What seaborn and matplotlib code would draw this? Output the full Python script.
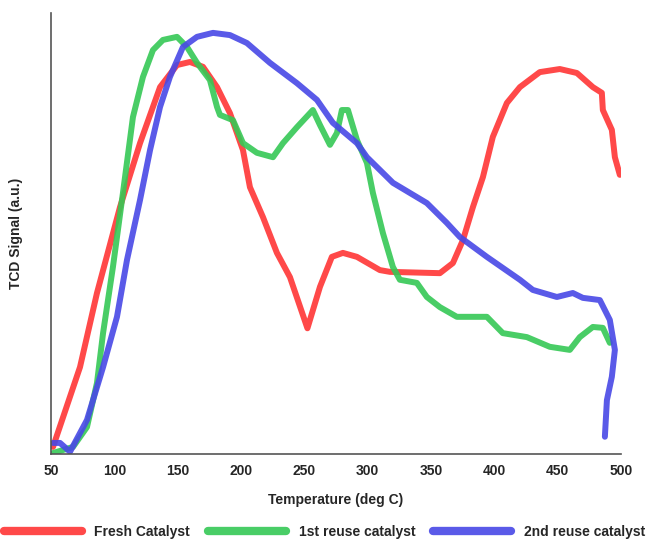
import numpy as np
import pandas as pd
import seaborn as sns
import matplotlib.pyplot as plt

# Fresh catalyst
fresh_temp = [51.6, 72.9, 86.3, 104.5, 120.3, 136.1, 149.5, 159.7, 170.0, 181.1, 191.3, 201.6,
              207.1, 217.4, 228.4, 238.7, 252.5, 262.4, 271.8, 280.5, 291.6, 309.7, 317.6, 357.1,
              367.4, 375.3, 383.2, 391.1, 398.9, 410.0, 420.3, 436.0, 451.8, 465.3, 477.9, 485.0,
              485.8, 492.9, 495.3, 499.2]
fresh_sig = [1.6, 19.7, 36.5, 56.0, 70.5, 83.2, 88.2, 88.9, 87.8, 83.2, 77.3, 68.9,
             60.5, 53.7, 45.6, 40.1, 28.5, 37.9, 44.7, 45.6, 44.7, 41.7, 41.3, 41.0,
             43.3, 48.5, 56.0, 62.8, 71.9, 79.6, 83.2, 86.6, 87.3, 86.4, 83.2, 81.9,
             78.0, 73.5, 67.3, 63.3]

# 1st reuse
reuse1_temp = [51.6, 67.4, 78.4, 86.3, 91.1, 98.9, 106.8, 114.7, 122.6, 130.5, 138.4, 149.5,
               157.4, 165.3, 175.5, 181.1, 183.4, 193.7, 201.6, 212.6, 225.3, 233.2, 244.2, 256.8,
               262.4, 270.3, 275.8, 279.7, 284.5, 291.6, 299.5, 304.2, 312.1, 320.0, 325.5, 338.9,
               346.8, 357.1, 370.5, 394.2, 406.8, 425.8, 443.9, 459.7, 467.6, 477.9, 485.8, 491.3]
reuse1_sig = [0.2, 1.6, 6.1, 16.1, 27.4, 42.4, 59.2, 76.4, 85.5, 91.6, 93.9, 94.6,
              92.3, 88.7, 84.8, 78.7, 76.9, 75.7, 70.5, 68.3, 67.3, 70.5, 74.1, 78.0,
              74.6, 70.1, 72.8, 78.0, 78.0, 71.2, 66.0, 59.2, 50.1, 42.4, 39.5, 38.8,
              35.6, 33.3, 31.1, 31.1, 27.4, 26.5, 24.3, 23.6, 26.5, 28.8, 28.6, 25.2]

# 2nd reuse
reuse2_temp = [51.6, 57.1, 65.0, 78.4, 91.1, 102.1, 110.0, 120.3, 128.2, 136.1, 143.9, 154.2,
               165.3, 177.9, 191.3, 204.7, 222.9, 244.2, 260.0, 272.6, 291.6, 299.5, 320.0, 346.8,
               362.6, 372.9, 394.2, 420.3, 430.5, 449.5, 462.1, 470.0, 483.4, 491.3, 495.3, 492.9,
               489.0, 487.4]
reuse2_sig = [2.5, 2.5, 0.5, 7.7, 19.7, 31.1, 44.0, 57.6, 68.9, 78.7, 85.5, 92.3,
              94.6, 95.5, 95.0, 93.2, 88.7, 84.1, 80.3, 75.1, 70.5, 67.3, 61.5, 56.9,
              52.4, 49.2, 44.7, 39.5, 37.2, 35.6, 36.5, 35.4, 34.9, 30.4, 23.6, 17.5,
              12.2, 3.9]

labels = ['Fresh Catalyst', '1st reuse catalyst', '2nd reuse catalyst']
colors = ['#ff3535', '#35c855', '#4848e6']

sns.set_style('white')
plt.rcParams['font.family'] = ['Liberation Sans', 'DejaVu Sans']

fig = plt.figure(figsize=(6.49, 5.43), dpi=100)
ax = fig.add_axes([0.0786, 0.164, 0.878, 0.812])

series = [(fresh_temp, fresh_sig), (reuse1_temp, reuse1_sig), (reuse2_temp, reuse2_sig)]
for (t, s), lab, c in zip(series, labels, colors):
    df = pd.DataFrame({'temp': t, 'sig': s})
    sns.lineplot(data=df, x='temp', y='sig', sort=False, estimator=None, ax=ax,
                 color=c, lw=4.3, alpha=0.9, label=lab, solid_capstyle='round')

ax.set_xlim(50, 500)
ax.set_ylim(0, 100)
ax.set_xticks(np.arange(50, 501, 50))
ax.set_yticks([])
ax.tick_params(axis='x', direction='out', length=4, width=1, color='#555555',
               labelsize=10, pad=3)
for lbl in ax.get_xticklabels():
    lbl.set_fontweight('bold')
for side in ['top', 'right']:
    ax.spines[side].set_visible(False)
for side in ['left', 'bottom']:
    ax.spines[side].set_color('#555555')
    ax.spines[side].set_linewidth(1.2)

ax.set_xlabel('Temperature (deg C)', fontsize=10, fontweight='bold', labelpad=11)
ax.set_ylabel('TCD Signal (a.u.)', fontsize=10, fontweight='bold', labelpad=20)

ax.get_legend().remove()
handles, labs = ax.get_legend_handles_labels()
leg = fig.legend(handles, labs, loc='lower center', ncol=3, frameon=False,
                 bbox_to_anchor=(0.5, -0.015), handlelength=5.6, columnspacing=1.3,
                 handletextpad=0.9, prop={'weight': 'bold', 'size': 10})
for h in leg.get_lines():
    h.set_linewidth(6)

fig.savefig('out.png', dpi=100)
